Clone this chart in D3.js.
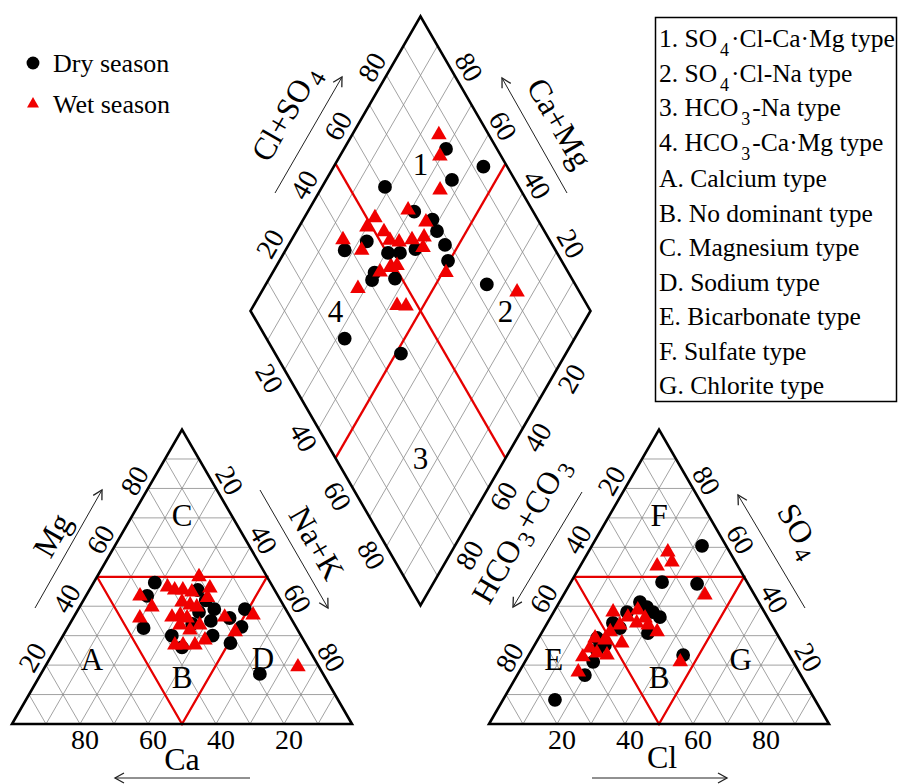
<!DOCTYPE html>
<html>
<head>
<meta charset="utf-8">
<script src="https://cdn.jsdelivr.net/npm/d3@7"></script>
<style>
	body { margin: 0; background: #fff; }
	svg { display: block; }
	text { font-family: "Liberation Serif", "Times New Roman", serif; fill: #000; }
	.grid { stroke: #8a8a8a; stroke-width: 0.8; fill: none; }
	.frame { stroke: #000; stroke-width: 2.6; fill: none; stroke-linejoin: miter; }
	.zone { stroke: #e60000; stroke-width: 2.3; fill: none; }
	.tick { font-size: 28px; text-anchor: middle; }
	.title { font-size: 32px; text-anchor: middle; }
	.arrow { stroke: #222; stroke-width: 1; }
	.zone-label { font-size: 31px; text-anchor: middle; }
	.legend text { font-size: 25.5px; }
	.seasons text { font-size: 26px; }
</style>
</head>
<body>
<div id="chart"></div>
<script>
var ticks = [20, 40, 60, 80];
var gridSteps = d3.range(10, 100, 10);

// cation triangle, [Ca, Mg] in %, Na+K is the remainder
var dryCation = [[34, 48], [38.5, 43.5], [45, 32.6], [22.6, 45.5], [22, 42], [26, 38], [24, 35], [26, 30],
	[38, 30], [37, 26], [12, 39], [18, 36], [16, 33], [22, 27.5], [18.6, 17], [30, 34], [21, 39]];
var wetCation = [[20, 50], [40.6, 43.5], [39, 39.7], [44.4, 36], [31, 46.5], [29.4, 45.5], [27, 45.5],
	[24.7, 44.8], [18.7, 46.2], [21, 43], [29.3, 41.4], [27.4, 40.4], [25.8, 39.7], [34.8, 36.3], [32, 37],
	[30.5, 36], [33.8, 33.6], [28, 33.6], [19.3, 36.3], [10.6, 37], [18.7, 31.3], [38.7, 26.8], [36.3, 26.8],
	[32.8, 26.8], [29, 28.5], [6.2, 19.4], [31.7, 31.9]];

// anion triangle, [Cl, SO4] in %, HCO3+CO3 is the remainder
var dryAnion = [[32.4, 60.5], [26.8, 48.2], [37.4, 47.6], [23.7, 41.4], [26.6, 39.7], [29.2, 38], [32.1, 36.3],
	[31.3, 30.9], [21.6, 38], [19.3, 34.3], [17.2, 29.2], [19.2, 25.1], [20.1, 21.1], [19.9, 16.6],
	[45.4, 23.4], [15.3, 8.2], [22.2, 32.6], [20.7, 26.8]];
var wetAnion = [[23.4, 58.4], [26.3, 55], [22.6, 53.7], [41.6, 43.8], [17.5, 38], [22.7, 36.3], [24.4, 38.7],
	[27.9, 36], [30, 33.6], [33.8, 31.3], [21.7, 33.6], [20, 31.3], [16.6, 29.2], [19.8, 28.5], [25.3, 27.5],
	[19.7, 24.1], [23, 23.4], [16.2, 22.8], [17.4, 17.7], [45.7, 21.1], [26.3, 34.3], [16.8, 25.8]];

// diamond, [Cl+SO4, Ca+Mg] in %
var dryDiamond = [[85, 70], [93, 56], [81.5, 63], [60.6, 81.5], [65, 68.7], [69, 62], [68.4, 58.7], [68.4, 54],
	[66.6, 50.4], [46, 77.6], [38, 82.6], [50.3, 69.4], [53.8, 65.9], [43, 70], [41, 69.5], [48, 63],
	[74, 35], [23, 67.6], [37, 48.5], [59, 62]];
var wetDiamond = [[85.3, 74.5], [82, 70.6], [76.3, 64.8], [63.5, 70.8], [66.7, 63.5], [52.4, 79.2], [48.5, 80],
	[39.3, 84.9], [43, 77.6], [53, 71], [55.4, 68], [59.6, 64.6], [63.6, 61.5], [61.5, 60], [44.7, 68.5],
	[48.4, 66.3], [50.8, 64.6], [64, 49], [35.4, 72.2], [81.6, 24.8], [44, 57.8], [46.6, 55.1], [52.7, 74.2]];

// zone letters, [bottom-left, bottom-right, top] in %
var cationZones = [['A', 65.5, 12.5, 22], ['B', 42, 42, 16], ['C', 14.5, 14.5, 71], ['D', 15, 62.6, 22.4]];
var anionZones = [['E', 70, 8, 22], ['B', 42, 42, 16], ['F', 14.5, 14.5, 71], ['G', 15, 63, 22]];
var diamondZones = [['1', 75, 75], ['2', 75, 25], ['3', 25, 25], ['4', 25, 75]];

var typeLabels = ['1. SO_4·Cl-Ca·Mg type', '2. SO_4·Cl-Na type', '3. HCO_3-Na type', '4. HCO_3-Ca·Mg type',
	'A. Calcium type', 'B. No dominant type', 'C. Magnesium type', 'D. Sodium type',
	'E. Bicarbonate type', 'F. Sulfate type', 'G. Chlorite type'];
var seasons = ['Dry season', 'Wet season'];

var width = 899,
	height = 784,
	side = 340,
	gap = 137,
	leftX = 12,
	baseY = 724,
	rightX = leftX + side + gap,
	sin60 = Math.sqrt(3) / 2;

var pct = d3.scaleLinear().domain([0, 100]).range([0, side]);

// ternary -> pixel, args in % (bottom-left, bottom-right, top)
function ternary(x0) {
	return function(bl, br, top) {
		return [x0 + pct(br) + pct(top) / 2, baseY - pct(top) * sin60];
	};
}
var cat = ternary(leftX),
	an = ternary(rightX);

var bx = leftX + side + gap / 2,
	by = baseY - gap * sin60;
function dia(a, c) {
	return [bx + (pct(a) - pct(c)) / 2, by - (pct(a) + pct(c)) * sin60];
}

var svg = d3.select('#chart').append('svg')
	.attr('width', width)
	.attr('height', height);

svg.append('defs').append('marker')
	.attr('id', 'head')
	.attr('markerUnits', 'userSpaceOnUse')
	.attr('viewBox', '-1 -6 12 12')
	.attr('markerWidth', 12)
	.attr('markerHeight', 12)
	.attr('refX', 9)
	.attr('refY', 0)
	.attr('orient', 'auto')
	.append('path')
	.attr('d', 'M0,-5L9,0L0,5')
	.attr('fill', 'none')
	.attr('stroke', '#222')
	.attr('stroke-width', 1.3);

var line = d3.line();

function seg(g, cls, pairs) {
	g.selectAll(null).data(pairs).enter().append('path')
		.attr('class', cls)
		.attr('d', line);
}

// ---- grids
var grid = svg.append('g');
var triGrid = function(f) {
	var out = [];
	gridSteps.forEach(function(k) {
		out.push([f(100 - k, 0, k), f(0, 100 - k, k)]);
		out.push([f(k, 100 - k, 0), f(k, 0, 100 - k)]);
		out.push([f(100 - k, k, 0), f(0, k, 100 - k)]);
	});
	return out;
};
seg(grid, 'grid', triGrid(cat));
seg(grid, 'grid', triGrid(an));
var diaGrid = [];
gridSteps.forEach(function(k) {
	diaGrid.push([dia(k, 0), dia(k, 100)]);
	diaGrid.push([dia(0, k), dia(100, k)]);
});
seg(grid, 'grid', diaGrid);

// ---- zone boundaries
var zones = svg.append('g');
[cat, an].forEach(function(f) {
	seg(zones, 'zone', [[f(50, 0, 50), f(0, 50, 50), f(50, 50, 0), f(50, 0, 50)]]);
});
seg(zones, 'zone', [[dia(50, 0), dia(50, 100)], [dia(0, 50), dia(100, 50)]]);

// ---- frames
var frames = svg.append('g');
[cat, an].forEach(function(f) {
	frames.append('path').attr('class', 'frame')
		.attr('d', line([f(100, 0, 0), f(0, 100, 0), f(0, 0, 100)]) + 'Z');
});
frames.append('path').attr('class', 'frame')
	.attr('d', line([dia(0, 0), dia(100, 0), dia(100, 100), dia(0, 100)]) + 'Z');

// ---- tick labels
var tickG = svg.append('g');
function tickSet(pos, dx, dy, rot) {
	tickG.selectAll(null).data(ticks).enter().append('text')
		.attr('class', 'tick')
		.attr('dy', '0.35em')
		.attr('transform', function(k) {
			var p = pos(k);
			return 'translate(' + (p[0] + dx) + ',' + (p[1] + dy) + ') rotate(' + rot + ')';
		})
		.text(function(k) { return k; });
}
var n = 16;
tickSet(function(k) { return cat(k, 100 - k, 0); }, 5, 15, 0);
tickSet(function(k) { return cat(100 - k, 0, k); }, -n * sin60, -n / 2, -60);
tickSet(function(k) { return cat(0, k, 100 - k); }, n * sin60, -n / 2, 60);
tickSet(function(k) { return an(100 - k, k, 0); }, 5, 15, 0);
tickSet(function(k) { return an(k, 0, 100 - k); }, -n * sin60, -n / 2, -60);
tickSet(function(k) { return an(0, 100 - k, k); }, n * sin60, -n / 2, 60);
n = 17;
tickSet(function(k) { return dia(k, 100); }, -n * sin60, -n / 2, -60);
tickSet(function(k) { return dia(100, k); }, n * sin60, -n / 2, 60);
tickSet(function(k) { return dia(0, 100 - k); }, -n * sin60, n / 2, 60);
tickSet(function(k) { return dia(100 - k, 0); }, n * sin60, n / 2, -60);

// ---- zone letters
var zl = svg.append('g');
function zoneLetters(data, pos) {
	zl.selectAll(null).data(data).enter().append('text')
		.attr('class', 'zone-label')
		.attr('dy', '0.35em')
		.attr('x', function(d) { return pos(d)[0]; })
		.attr('y', function(d) { return pos(d)[1]; })
		.text(function(d) { return d[0]; });
}
zoneLetters(cationZones, function(d) { return cat(d[1], d[2], d[3]); });
zoneLetters(anionZones, function(d) { return an(d[1], d[2], d[3]); });
zoneLetters(diamondZones, function(d) { return dia(d[1], d[2]); });

// text with _n subscripts
function rich(sel, str, subSize, subDy) {
	var parts = str.split(/_(\d)/);
	parts.forEach(function(p, i) {
		if (i % 2 === 1) {
			sel.append('tspan').attr('font-size', subSize).attr('dx', 3).attr('dy', subDy).text(p);
		} else if (p) {
			var t = sel.append('tspan').text(p);
			if (i > 0) t.attr('dy', -subDy).attr('dx', 2);
		}
	});
}

// ---- axis titles with arrows
function axisTitle(str, x, y, rot, from, to) {
	var t = svg.append('text')
		.attr('class', 'title')
		.attr('dy', '0.35em')
		.attr('transform', 'translate(' + x + ',' + y + ') rotate(' + rot + ')');
	rich(t, str, 24, 7);
	svg.append('line')
		.attr('class', 'arrow')
		.attr('x1', from[0]).attr('y1', from[1])
		.attr('x2', to[0]).attr('y2', to[1])
		.attr('marker-end', 'url(#head)');
}
axisTitle('Mg', 52, 535, -60, [35, 608], [102, 490]);
axisTitle('Na+K', 317, 543, 60, [260, 490], [328, 608]);
axisTitle('Ca', 182, 759, 0, [250, 778], [115, 778]);
axisTitle('Cl', 662, 757, 0, [592, 778], [727, 778]);
axisTitle('SO_4', 800, 530, 60, [805, 608], [738, 495]);
axisTitle('HCO_3+CO_3', 520, 530, -60, [582, 492], [513, 607]);
axisTitle('Cl+SO_4', 285, 113, -60, [275, 193], [342, 77]);
axisTitle('Ca+Mg', 560, 123, 60, [567, 193], [502, 78]);

// ---- samples
var circle = d3.symbol().type(d3.symbolCircle).size(150)(),
	tri = d3.symbol().type(d3.symbolTriangle).size(105)();
var pts = svg.append('g');
function plot(data, pos, shape, color) {
	pts.selectAll(null).data(data).enter().append('path')
		.attr('d', shape)
		.attr('fill', color)
		.attr('transform', function(d) { return 'translate(' + pos(d) + ')'; });
}
var catPos = function(d) { return cat(d[0], 100 - d[0] - d[1], d[1]); },
	anPos = function(d) { return an(100 - d[0] - d[1], d[0], d[1]); },
	diaPos = function(d) { return dia(d[0], d[1]); };
plot(dryCation, catPos, circle, '#000');
plot(dryAnion, anPos, circle, '#000');
plot(dryDiamond, diaPos, circle, '#000');
plot(wetCation, catPos, tri, '#f00000');
plot(wetAnion, anPos, tri, '#f00000');
plot(wetDiamond, diaPos, tri, '#f00000');

// ---- season legend
var sl = svg.append('g').attr('class', 'seasons');
sl.selectAll('path').data(seasons).enter().append('path')
	.attr('d', function(d, i) { return d3.symbol().type(i ? d3.symbolTriangle : d3.symbolCircle).size(i ? 62 : 130)(); })
	.attr('fill', function(d, i) { return i ? '#f00000' : '#000'; })
	.attr('transform', function(d, i) { return 'translate(33,' + (63 + i * 41) + ')'; });
sl.selectAll('text').data(seasons).enter().append('text')
	.attr('x', 53)
	.attr('y', function(d, i) { return 63 + i * 41; })
	.attr('dy', '0.35em')
	.text(function(d) { return d; });

// ---- type legend
var box = svg.append('g').attr('class', 'legend');
box.append('rect')
	.attr('x', 655.5).attr('y', 17.5)
	.attr('width', 241).attr('height', 384)
	.attr('fill', '#fff')
	.attr('stroke', '#000')
	.attr('stroke-width', 1.5);
var rowY = d3.scalePoint().domain(d3.range(typeLabels.length)).range([47, 392]);
typeLabels.forEach(function(s, i) {
	var t = box.append('text')
		.attr('x', 659)
		.attr('y', rowY(i) + (i < 4 ? 0 : 2));
	rich(t, s, 18, 9);
});
</script>
</body>
</html>
